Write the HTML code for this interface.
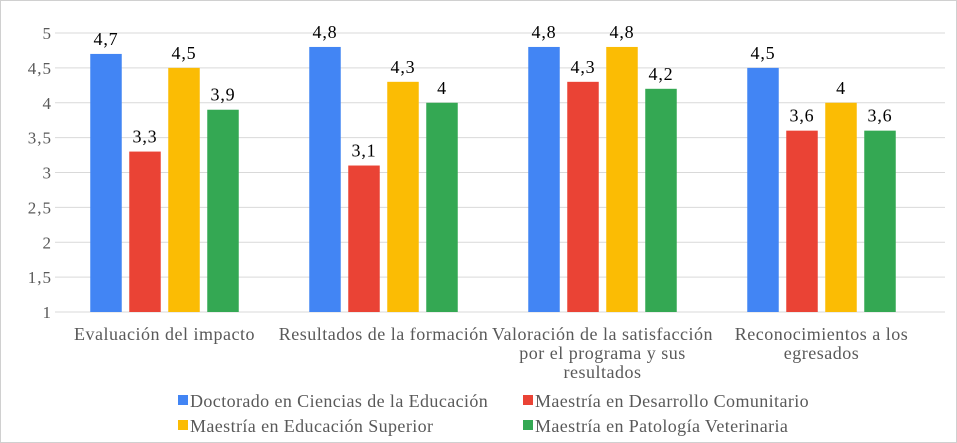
<!DOCTYPE html>
<html><head><meta charset="utf-8"><style>
body{margin:0;background:#fff}
svg{display:block;font-family:"Liberation Serif",serif}
</style></head><body>
<svg id="c" width="957" height="443">
<rect x="0.5" y="0.5" width="956" height="442" fill="#fff" stroke="#d0d0d0"/>
<g id="grid"></g><g id="bars"></g><g id="labels"></g><g id="legend"></g>
</svg>
<script>
const categories=[["Evaluación del impacto"],["Resultados de la formación"],["Valoración de la satisfacción","por el programa y sus","resultados"],["Reconocimientos a los","egresados"]];
const seriesNames=["Doctorado en Ciencias de la Educación","Maestría en Desarrollo Comunitario","Maestría en Educación Superior","Maestría en Patología Veterinaria"];
const doctorado=[4.7,4.8,4.8,4.5];
const desarrollo=[3.3,3.1,4.3,3.6];
const eduSup=[4.5,4.3,4.8,4.0];
const patologia=[3.9,4.0,4.2,3.6];
const yTicks=[1,1.5,2,2.5,3,3.5,4,4.5,5];
const colors=["#4285f4","#ea4335","#fbbc04","#34a853"];
const series=[doctorado,desarrollo,eduSup,patologia];
const NS="http://www.w3.org/2000/svg";
const x0=55,x1=931,gx1=945,yTop=33,yBot=312,yMin=1,yMax=5;
const y=v=>yBot-(v-yMin)/(yMax-yMin)*(yBot-yTop);
const cw=(x1-x0)/categories.length;
function mk(p,t,a){const e=document.createElementNS(NS,t);for(const k in a)e.setAttribute(k,a[k]);p.appendChild(e);return e;}
const fmt=v=>String(v).replace('.',',');
const G=document.getElementById('grid'),B=document.getElementById('bars'),L=document.getElementById('labels'),LG=document.getElementById('legend');
yTicks.forEach(t=>{
 const l=mk(G,'line',{x1:55,x2:gx1,y1:y(t),y2:y(t),stroke:'#d9d9d9','stroke-width':1});
 
 
 const tx=mk(G,'text',{x:52,y:y(t)+6,'text-anchor':'end','font-size':17,'letter-spacing':1,fill:'#595959'});
 tx.textContent=fmt(t);
 
 
});
const bw=31.5,gap=7.5;
categories.forEach((c,i)=>{
 const cx=x0+cw*(i+0.5);
 const start=cx-(4*bw+3*gap)/2;
 series.forEach((s,j)=>{
  const bx=start+j*(bw+gap);
  const r=mk(B,'rect',{x:bx,y:y(s[i]),width:bw,height:yBot-y(s[i]),fill:colors[j]});
  
  
  const t=mk(L,'text',{x:bx+bw/2,y:y(s[i])-9,'text-anchor':'middle','font-size':18,'letter-spacing':0.8,fill:'#000'});
  t.textContent=fmt(s[i]);
  
  
 });
 c.forEach((line,k)=>{
  const t=mk(L,'text',{x:cx,y:340+k*19,'text-anchor':'middle','font-size':18,'letter-spacing':0.5,fill:'#595959'});
  t.textContent=line;
  
  
 });
});
const legPos=[[178,401],[523,401],[178,426],[523,426]];
seriesNames.forEach((n,j)=>{
 const g=mk(LG,'g',{});
 
 
 mk(g,'rect',{x:legPos[j][0],y:legPos[j][1]-6,width:10,height:10,fill:colors[j]});
 const t=mk(g,'text',{x:legPos[j][0]+12,y:legPos[j][1]+6,'font-size':18,'letter-spacing':0.4,fill:'#595959'});
 t.textContent=n;
});
</script>
</body></html>
